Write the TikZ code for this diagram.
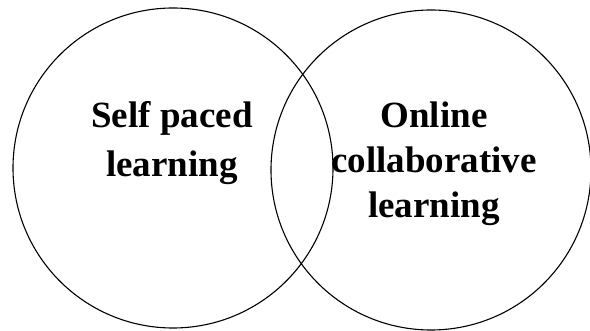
\documentclass[tikz,border=0pt]{standalone}
\usepackage{fontspec}
\setmainfont{Liberation Serif}

\begin{document}
\begin{tikzpicture}[x=1pt, y=-1pt]
            \useasboundingbox (0, 0) rectangle (590, 331);
            \node[circle, draw, line width=1.1pt, minimum size=320pt, inner sep=0pt] (selfset) at (173, 168) {};
            \node[circle, draw, line width=1.1pt, minimum size=320pt, inner sep=0pt] (onlineset) at (431, 170) {};
            
            \node[anchor=base, align=center, inner sep=0pt, font=\bfseries\fontsize{37}{49}\selectfont] (selflabel) at (172, 177) {Self paced\\learning};
            \node[anchor=base, align=center, inner sep=0pt, font=\bfseries\fontsize{37}{45}\selectfont] (onlinelabel) at (434, 218) {Online\\collaborative\\learning};
        \end{tikzpicture}
\end{document}
